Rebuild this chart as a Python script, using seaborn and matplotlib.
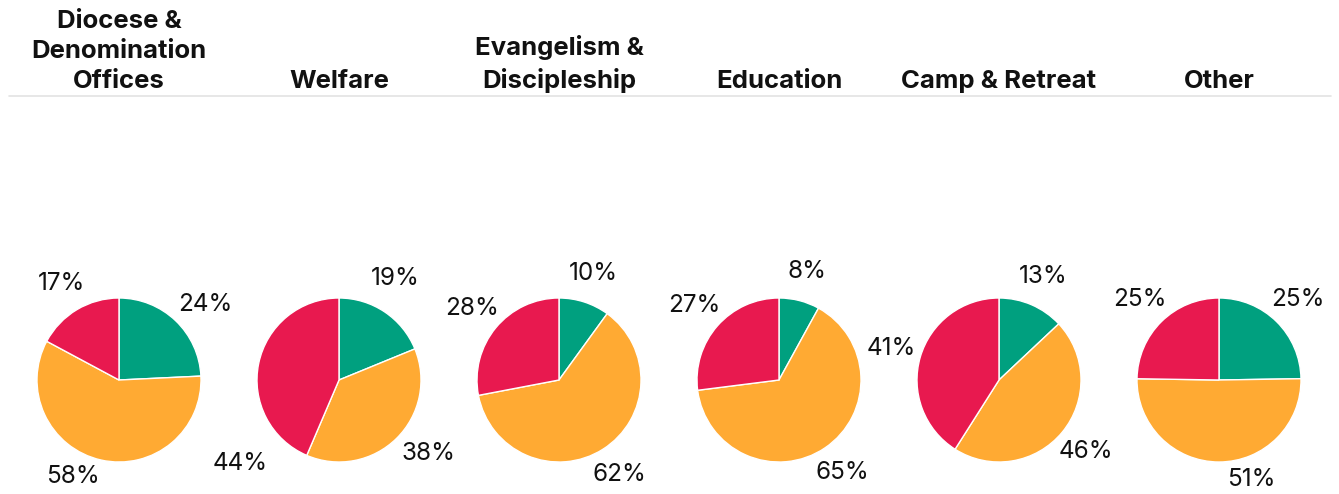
import numpy as np
import matplotlib
matplotlib.use('Agg')
import matplotlib.pyplot as plt
import seaborn as sns

sns.set_theme(style='white')
plt.rcParams['font.family'] = ['Inter', 'DejaVu Sans']

# categories and shares (green, orange, red)
titles = ['Diocese &\nDenomination\nOffices', 'Welfare', 'Evangelism &\nDiscipleship',
          'Education', 'Camp & Retreat', 'Other']
green = [24, 19, 10, 8, 13, 25]
orange = [58, 38, 62, 65, 46, 51]
red = [17, 44, 28, 27, 41, 25]

colors = ['#00A07F', '#FFAA33', '#E8194F']

# a few labels are moved around their pie: (angle shift in degrees, distance)
label_move = {(0, 1): (-13, 1.30), (1, 2): (52, 1.58), (5, 1): (18, 1.28),
              (1, 0): (5, 1.42), (1, 1): (6, 1.42), (0, 0): (-5, 1.40)}

W, H = 1339, 494
fig = plt.figure(figsize=(W / 100, H / 100), dpi=100)

r_px = 82
half = 110
for i, t in enumerate(titles):
    cx = 119 + 220 * i
    cy = 380
    ax = fig.add_axes([(cx - half) / W, (H - cy - half) / H, 2 * half / W, 2 * half / H])
    vals = [green[i], orange[i], red[i]]
    wedges, _ = ax.pie(vals, colors=colors, startangle=90, counterclock=False,
                       wedgeprops=dict(edgecolor='white', linewidth=1))
    for j, w in enumerate(wedges):
        shift, dist = label_move.get((i, j), (0, 1.37))
        ang = np.deg2rad((w.theta1 + w.theta2) / 2 + shift)
        ax.text(dist * np.cos(ang), dist * np.sin(ang), f'{vals[j]}%',
                ha='center', va='center', fontsize=17.5, color='#111111')
    lim = half / r_px
    ax.set_xlim(-lim, lim)
    ax.set_ylim(-lim, lim)
    ax.set_aspect('equal')
    ax.axis('off')

    fig.text(cx / W, 1 - 93 / H, t, ha='center', va='bottom', fontsize=18.5,
             fontweight='bold', linespacing=1.38, color='#111111')

fig.add_artist(plt.Line2D([9 / W, 1331 / W], [1 - 96 / H, 1 - 96 / H],
                          color='#e3e3e3', linewidth=1.2))

fig.savefig('out.png', dpi=100)
